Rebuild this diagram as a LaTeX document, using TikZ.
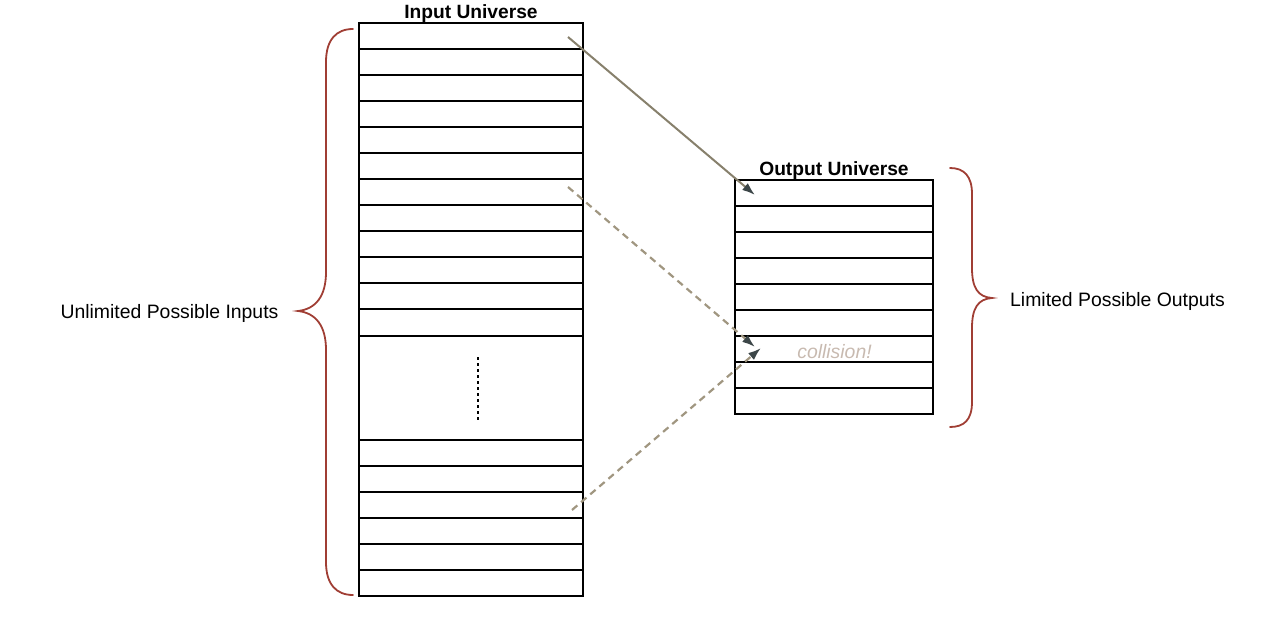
\documentclass[tikz,border=0pt]{standalone}
\usepackage{fontspec}
\setmainfont{Liberation Sans}
\usetikzlibrary{arrows.meta}
\definecolor{bracecol}{RGB}{160,62,52}
\definecolor{arrowcol}{RGB}{135,128,108}
\definecolor{dashcol}{RGB}{160,150,128}
\definecolor{tipcol}{RGB}{60,70,72}
\definecolor{collcol}{RGB}{200,186,176}
\tikzset{
  cellline/.style={line width=2pt, draw=black},
  bracestyle/.style={line width=1.8pt, draw=bracecol, line cap=round},
  solidarrow/.style={line width=2pt, draw=arrowcol, -{Latex[length=13pt,width=9pt,color=tipcol]}},
  dasharrow/.style={line width=2.2pt, draw=dashcol, dash pattern=on 7pt off 5pt, -{Latex[length=13pt,width=9pt,color=tipcol]}},
  lbl/.style={font=\fontsize{19.4}{23}\selectfont, inner sep=0pt},
  title/.style={font=\fontsize{19.2}{23}\selectfont\bfseries, inner sep=0pt},
}
\begin{document}
\begin{tikzpicture}[x=1pt,y=-1pt]
\useasboundingbox (0,0) rectangle (1270,623);
% Input universe box
\draw[cellline] (359,23) rectangle (583,596);
\foreach \yy in {49,75,101,127,153,179,205,231,257,283,309,336,440,466,492,518,544,570}
  \draw[cellline] (359,\yy) -- (583,\yy);
\draw[line width=2pt, dash pattern=on 2.5pt off 3.5pt] (478,357) -- (478,420);
\node[title, anchor=base] (inTitle) at (471,19) {Input Universe};
% Output universe box
\draw[cellline] (735,180) rectangle (933,414);
\foreach \yy in {206,232,258,284,310,336,362,388}
  \draw[cellline] (735,\yy) -- (933,\yy);
\node[title, anchor=base] (outTitle) at (834,176) {Output Universe};
\node[lbl, font=\fontsize{19.4}{23}\selectfont\itshape, text=collcol, anchor=base] (coll) at (834.5,358) {collision!};
% Braces
\draw[bracestyle] (353,29) .. controls (336,29) and (326,40) .. (326,62) -- (326,272)
  .. controls (326,296) and (316,309) .. (298,311)
  .. controls (316,313) and (326,326) .. (326,350) -- (326,562)
  .. controls (326,584) and (336,595) .. (353,595);
\draw[bracestyle] (950,168) .. controls (964,168) and (972,176) .. (972,194) -- (972,268)
  .. controls (972,288) and (978,297) .. (992,298)
  .. controls (978,299) and (972,308) .. (972,328) -- (972,402)
  .. controls (972,420) and (964,427) .. (950,427);
\node[lbl, anchor=base] (inLbl) at (169.5,318) {Unlimited Possible Inputs};
\node[lbl, anchor=base west] (outLbl) at (1010,306) {Limited Possible Outputs};
% Arrow endpoints
\coordinate (a1) at (568,37);
\coordinate (b1) at (755,195);
\coordinate (a2) at (568,187);
\coordinate (b2) at (755,347);
\coordinate (a3) at (572,510);
\coordinate (b3) at (761,348);
\draw[solidarrow] (a1) -- (b1);
\draw[dasharrow] (a2) -- (b2);
\draw[dasharrow] (a3) -- (b3);
\end{tikzpicture}
\end{document}
